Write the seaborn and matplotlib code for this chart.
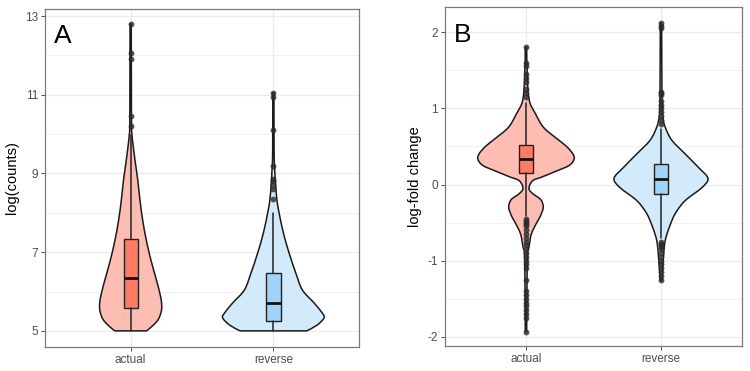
import numpy as np
import pandas as pd
import matplotlib
matplotlib.use("Agg")
import matplotlib.pyplot as plt
from matplotlib.ticker import MultipleLocator
from matplotlib.path import Path
from matplotlib.patches import PathPatch
import seaborn as sns

categories = ["actual", "reverse"]

# ---- Panel A: log(counts) ----
# violin profile (value, half-width in category units)
a_act_y = [5.0, 5.15, 5.3, 5.5, 5.7, 5.95, 6.3, 6.8, 7.3, 7.8, 8.3, 8.83, 9.3, 9.7, 10.0, 10.3, 11.5, 12.8]
a_act_w = [0.112, 0.16, 0.195, 0.215, 0.217, 0.205, 0.18, 0.142, 0.11, 0.085, 0.066, 0.05, 0.032, 0.018, 0.009, 0.006, 0.005, 0.004]
a_rev_y = [5.0, 5.15, 5.33, 5.45, 5.71, 6.04, 6.47, 6.98, 7.49, 8.0, 8.32, 8.7, 9.2, 9.6, 11.05]
a_rev_w = [0.234, 0.308, 0.355, 0.343, 0.285, 0.203, 0.157, 0.11, 0.07, 0.04, 0.025, 0.016, 0.008, 0.005, 0.004]
# box stats: whislo, q1, median, q3, whishi
a_act_box = [5.0, 5.59, 6.34, 7.34, 9.97]
a_rev_box = [5.0, 5.26, 5.72, 6.47, 7.99]
a_act_out = [10.2, 10.45, 11.9, 12.05, 12.8]
a_rev_out = [8.35, 8.6, 8.7, 8.8, 8.85, 9.2, 10.1, 10.95, 11.05]

# ---- Panel B: log-fold change ----
b_act_y = [-1.93, -1.2, -0.9, -0.82, -0.65, -0.51, -0.42, -0.3, -0.2, -0.12, -0.05, 0.05, 0.1, 0.18, 0.25, 0.33, 0.4, 0.5, 0.6, 0.75, 0.93, 1.1, 1.4, 1.8]
b_act_w = [0.005, 0.008, 0.012, 0.022, 0.04, 0.077, 0.105, 0.128, 0.11, 0.05, 0.022, 0.05, 0.12, 0.23, 0.32, 0.356, 0.348, 0.3, 0.23, 0.13, 0.07, 0.025, 0.01, 0.005]
b_rev_y = [-1.26, -1.1, -0.91, -0.73, -0.56, -0.38, -0.21, -0.04, 0.08, 0.22, 0.4, 0.58, 0.75, 0.88, 1.0, 1.25, 2.12]
b_rev_w = [0.006, 0.012, 0.02, 0.032, 0.062, 0.106, 0.18, 0.304, 0.348, 0.28, 0.18, 0.081, 0.032, 0.014, 0.01, 0.007, 0.005]
b_act_box = [-0.41, 0.145, 0.34, 0.515, 1.07]
b_rev_box = [-0.7, -0.13, 0.07, 0.267, 0.73]
b_act_out = [1.15, 1.2, 1.25, 1.35, 1.4, 1.45, 1.55, 1.6, 1.8,
             -0.45, -0.48, -0.5, -0.52, -0.55, -0.6, -0.65, -0.7, -0.75, -0.8, -0.85,
             -0.9, -0.95, -1.0, -1.05, -1.1, -1.25, -1.4, -1.45, -1.5, -1.55, -1.6,
             -1.65, -1.7, -1.75, -1.93]
b_rev_out = [0.8, 0.85, 0.9, 0.95, 1.0, 1.05, 1.1, 1.17, 1.2, 1.22, 2.05, 2.08, 2.12,
             -0.75, -0.78, -0.8, -0.82, -0.85, -0.9, -0.95, -1.0, -1.05, -1.1, -1.15,
             -1.2, -1.25]

violin_colors = ["#FDBDB3", "#D3EAFB"]
box_colors = ["#FF7B63", "#9FD3F7"]

sns.set_theme(style="whitegrid")
plt.rcParams["font.family"] = ["Liberation Sans", "DejaVu Sans"]
plt.rcParams["axes.unicode_minus"] = False

fig = plt.figure(figsize=(7.5, 3.71), dpi=100)
axA = fig.add_axes([0.06, 0.0647, 0.4187, 0.911])
axB = fig.add_axes([0.5933, 0.0674, 0.396, 0.9137])


def bezier_side(px, py):
    """Catmull-Rom style cubic Bezier control points through given outline points."""
    P = np.column_stack([px, py])
    n = len(P)
    verts, codes = [], []
    for i in range(n - 1):
        p0 = P[i - 1] if i > 0 else P[i]
        p1 = P[i]
        p2 = P[i + 1]
        p3 = P[i + 2] if i + 2 < n else P[i + 1]
        c1 = p1 + (p2 - p0) / 6.0
        c2 = p2 - (p3 - p1) / 6.0
        verts += [tuple(c1), tuple(c2), tuple(p2)]
        codes += [Path.CURVE4] * 3
    return verts, codes


def draw_violin(ax, x, ys, ws, face):
    ys = np.asarray(ys, float)
    ws = np.asarray(ws, float)
    lx, ly = x - ws, ys
    rx, ry = (x + ws)[::-1], ys[::-1]
    verts = [(lx[0], ly[0])]
    codes = [Path.MOVETO]
    v, c = bezier_side(lx, ly)
    verts += v
    codes += c
    verts.append((rx[0], ry[0]))
    codes.append(Path.LINETO)
    v, c = bezier_side(rx, ry)
    verts += v
    codes += c
    verts.append((lx[0], ly[0]))
    codes.append(Path.LINETO)
    patch = PathPatch(Path(verts, codes), facecolor=face, edgecolor="#1a1a1a",
                      lw=1.1, zorder=2)
    ax.add_patch(patch)


def panel(ax, prof, boxes, outs, ylim, major, minor, ylabel, letter):
    for i, (ys, ws) in enumerate(prof):
        draw_violin(ax, i, ys, ws, violin_colors[i])
    stats = []
    for b in boxes:
        stats.append(dict(whislo=b[0], q1=b[1], med=b[2], q3=b[3], whishi=b[4], fliers=[]))
    bp = ax.bxp(stats, positions=[0, 1], widths=0.1, patch_artist=True,
                showfliers=False, showcaps=False,
                boxprops=dict(edgecolor="#222222", lw=1.0),
                whiskerprops=dict(color="#222222", lw=1.1),
                medianprops=dict(color="#111111", lw=2.0))
    for patch, c in zip(bp["boxes"], box_colors):
        patch.set_facecolor(c)
        patch.set_zorder(3)
    for k in ("whiskers", "medians"):
        for l in bp[k]:
            l.set_zorder(3)
    df = pd.DataFrame({
        "group": [categories[0]] * len(outs[0]) + [categories[1]] * len(outs[1]),
        "value": list(outs[0]) + list(outs[1]),
    })
    sns.stripplot(data=df, x="group", y="value", order=categories, jitter=False,
                  color="#2b2b2b", alpha=0.8, size=4.2, linewidth=0, ax=ax, zorder=4)
    ax.set_xlim(-0.6, 1.6)
    ax.set_xticks([0, 1])
    ax.set_xticklabels(categories)
    ax.set_ylim(*ylim)
    ax.yaxis.set_major_locator(MultipleLocator(major))
    ax.yaxis.set_minor_locator(MultipleLocator(minor))
    ax.set_facecolor("white")
    ax.grid(True, which="major", color="#EBEBEB", lw=0.9)
    ax.grid(True, which="minor", axis="y", color="#EBEBEB", lw=0.5)
    ax.set_axisbelow(True)
    for s in ax.spines.values():
        s.set_color("#7a7a7a")
        s.set_linewidth(0.9)
    ax.tick_params(axis="both", which="major", length=3, width=0.6, color="#333333",
                   labelsize=8.5, labelcolor="#4D4D4D", pad=2, left=True, bottom=True)
    ax.tick_params(axis="y", which="minor", length=0)
    ax.set_xlabel("")
    ax.set_ylabel(ylabel, fontsize=10.5, color="black", labelpad=4)
    ax.text(0.03, 0.898, letter, transform=ax.transAxes, fontsize=19,
            color="black", va="baseline", ha="left")


panel(axA, [(a_act_y, a_act_w), (a_rev_y, a_rev_w)], [a_act_box, a_rev_box],
      [a_act_out, a_rev_out], (4.59, 13.18), 2, 1, "log(counts)", "A")
axA.set_yticks([5, 7, 9, 11, 13])
panel(axB, [(b_act_y, b_act_w), (b_rev_y, b_rev_w)], [b_act_box, b_rev_box],
      [b_act_out, b_rev_out], (-2.12, 2.33), 1, 0.5, "log-fold change", "B")

fig.savefig("out.png", dpi=100)
